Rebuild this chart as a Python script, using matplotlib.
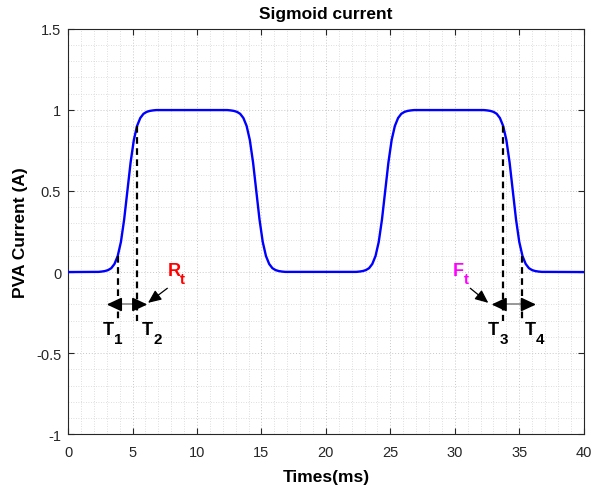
import matplotlib
matplotlib.use("Agg")
import matplotlib.pyplot as plt
from matplotlib.ticker import MultipleLocator

plt.rcParams['font.family'] = ['Liberation Sans', 'DejaVu Sans']

# ---- data ----
times = [0.0,
         2.1, 2.35, 2.6, 2.85, 3.1, 3.35, 3.6, 3.85, 4.1, 4.35, 4.6,
         4.85, 5.1, 5.35, 5.6, 5.85, 6.1, 6.35, 6.6, 6.85, 7.1,
         12.1, 12.35, 12.6, 12.85, 13.1, 13.35, 13.6, 13.85, 14.1, 14.35, 14.6,
         14.85, 15.1, 15.35, 15.6, 15.85, 16.1, 16.35, 16.6, 16.85, 17.1,
         22.1, 22.35, 22.6, 22.85, 23.1, 23.35, 23.6, 23.85, 24.1, 24.35, 24.6,
         24.85, 25.1, 25.35, 25.6, 25.85, 26.1, 26.35, 26.6, 26.85, 27.1,
         32.0, 32.25, 32.5, 32.75, 33.0, 33.25, 33.5, 33.75, 34.0, 34.25, 34.5,
         34.75, 35.0, 35.25, 35.5, 35.75, 36.0, 36.25, 36.5, 36.75, 37.0,
         40.0]
current = [0.0,
           0.001, 0.001, 0.003, 0.006, 0.012, 0.024, 0.050, 0.099, 0.186, 0.324, 0.500,
           0.676, 0.814, 0.901, 0.950, 0.976, 0.988, 0.994, 0.997, 0.999, 0.999,
           0.999, 0.999, 0.997, 0.994, 0.988, 0.976, 0.950, 0.901, 0.814, 0.676, 0.500,
           0.324, 0.186, 0.099, 0.050, 0.024, 0.012, 0.006, 0.003, 0.001, 0.001,
           0.001, 0.001, 0.003, 0.006, 0.012, 0.024, 0.050, 0.099, 0.186, 0.324, 0.500,
           0.676, 0.814, 0.901, 0.950, 0.976, 0.988, 0.994, 0.997, 0.999, 0.999,
           0.999, 0.999, 0.997, 0.994, 0.988, 0.976, 0.950, 0.901, 0.814, 0.676, 0.500,
           0.324, 0.186, 0.099, 0.050, 0.024, 0.012, 0.006, 0.003, 0.001, 0.001,
           0.0]

marker_times = [3.85, 5.35, 33.75, 35.25]
marker_levels = [0.1, 0.9, 0.9, 0.1]
marker_names = ['1', '2', '3', '4']
label_x = [2.7, 5.75, 32.55, 35.4]
arrow_pairs = [(0, 1), (2, 3)]
arrow_tips = [(3.0, 6.15), (32.85, 36.3)]

x_ticks = [0, 5, 10, 15, 20, 25, 30, 35, 40]
y_ticks = [-1, -0.5, 0, 0.5, 1, 1.5]
y_ticklabels = ['-1', '-0.5', '0', '0.5', '1', '1.5']

# ---- figure ----
fig = plt.figure(figsize=(5.92, 4.89), dpi=100)
ax = fig.add_axes([0.115, 0.110, 0.871, 0.829])

ax.plot(times, current, color=(0, 0, 1), lw=1.7, zorder=3)

ax.set_xlim(0, 40)
ax.set_ylim(-1, 1.5)
ax.set_xticks(x_ticks)
ax.set_yticks(y_ticks)
ax.set_yticklabels(y_ticklabels)
ax.xaxis.set_minor_locator(MultipleLocator(1))
ax.yaxis.set_minor_locator(MultipleLocator(0.1))
ax.grid(which='minor', color='#d4d4d4', linestyle=(0, (1, 2)), lw=0.6)
ax.grid(which='major', color='#c8c8c8', linestyle=(0, (1, 2)), lw=0.7)
ax.set_axisbelow(True)
ax.tick_params(which='both', direction='in', top=True, right=True,
               labelsize=10.5, labelcolor='#262626', color='#262626')
ax.tick_params(which='major', length=4)
ax.tick_params(which='minor', length=0)
ax.tick_params(axis='x', which='major', pad=8)
ax.tick_params(axis='y', which='major', pad=5)
for s in ax.spines.values():
    s.set_color('#262626')
    s.set_linewidth(0.8)

ax.set_title('Sigmoid current', fontsize=12.5, fontweight='bold', pad=8)
ax.set_xlabel('Times(ms)', fontsize=12.5, fontweight='bold', labelpad=7)
ax.set_ylabel('PVA Current (A)', fontsize=12.5, fontweight='bold', labelpad=6)

# dashed markers
for t, lv in zip(marker_times, marker_levels):
    ax.plot([t, t], [lv, -0.3], color='black', lw=1.6,
            linestyle=(0, (3, 2)), zorder=4)

# T labels with subscripts
for t, name in zip(label_x, marker_names):
    ax.text(t, -0.355, 'T', fontsize=13, fontweight='bold', color='black',
            ha='left', va='center')
    ax.text(t + 0.9, -0.415, name, fontsize=11, fontweight='bold',
            color='black', ha='left', va='center')

# double arrows
for (i, j), (lt, rt) in zip(arrow_pairs, arrow_tips):
    ti, tj = marker_times[i], marker_times[j]
    ax.plot([ti, tj], [-0.2, -0.2], color='#888888', lw=1.2, zorder=4)
    ax.annotate('', xy=(lt, -0.2), xytext=(ti, -0.2),
                arrowprops=dict(arrowstyle='-|>,head_length=0.9,head_width=0.42',
                                color='black', lw=1.2, shrinkA=0, shrinkB=0),
                zorder=5)
    ax.annotate('', xy=(rt, -0.2), xytext=(tj, -0.2),
                arrowprops=dict(arrowstyle='-|>,head_length=0.9,head_width=0.42',
                                color='black', lw=1.2, shrinkA=0, shrinkB=0),
                zorder=5)

# Rt / Ft labels
ax.text(7.7, 0.01, 'R', color='red', fontsize=13, fontweight='bold',
        ha='left', va='center')
ax.text(8.65, -0.045, 't', color='red', fontsize=11, fontweight='bold',
        ha='left', va='center')
ax.annotate('', xy=(6.2, -0.19), xytext=(7.7, -0.1),
            arrowprops=dict(arrowstyle='-|>,head_length=0.8,head_width=0.35',
                            color='black', lw=0.9, shrinkA=0, shrinkB=0))
ax.text(29.85, 0.01, 'F', color='#ff00ff', fontsize=13, fontweight='bold',
        ha='left', va='center')
ax.text(30.7, -0.045, 't', color='#ff00ff', fontsize=11, fontweight='bold',
        ha='left', va='center')
ax.annotate('', xy=(32.6, -0.19), xytext=(31.2, -0.1),
            arrowprops=dict(arrowstyle='-|>,head_length=0.8,head_width=0.35',
                            color='black', lw=0.9, shrinkA=0, shrinkB=0))

fig.savefig('out.png', dpi=100)
